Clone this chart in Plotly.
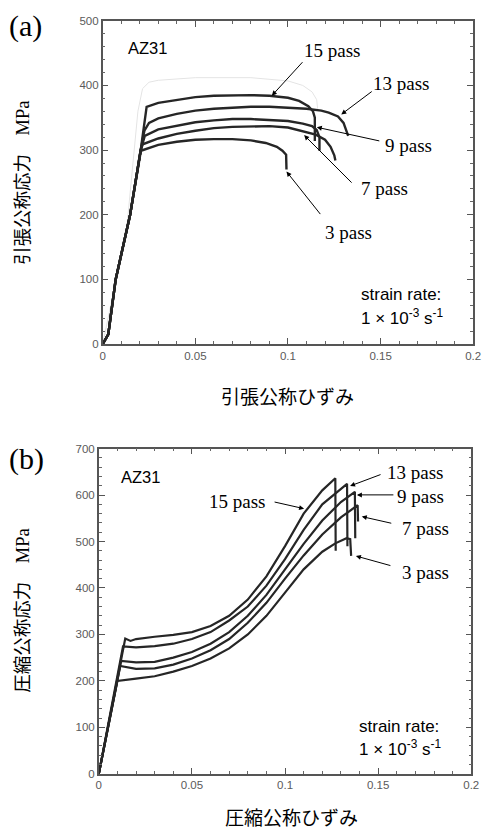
import plotly.graph_objects as go

# ---------------- data: tension (a) ----------------
t_labels = ["15 pass", "13 pass", "9 pass", "7 pass", "3 pass"]
t15_x = [0, 0.003, 0.007, 0.0148, 0.0205, 0.0237, 0.03, 0.04, 0.05, 0.06, 0.07, 0.08, 0.09, 0.1, 0.106, 0.111, 0.1135, 0.1145, 0.1145]
t15_y = [0, 15, 100, 200, 300, 367, 373, 378, 382, 384, 385, 385, 384, 381, 376, 368, 360, 350, 314]
t13_x = [0, 0.003, 0.007, 0.0148, 0.0205, 0.0225, 0.025, 0.03, 0.04, 0.05, 0.06, 0.07, 0.08, 0.09, 0.1, 0.11, 0.118, 0.122, 0.127, 0.13, 0.1325]
t13_y = [0, 15, 100, 200, 300, 330, 342, 349, 356, 361, 364, 366, 367, 367, 366, 364, 361, 358, 352, 342, 322]
t9_x = [0, 0.003, 0.007, 0.0148, 0.0205, 0.0227, 0.03, 0.04, 0.05, 0.06, 0.07, 0.08, 0.09, 0.1, 0.108, 0.113, 0.1155, 0.117, 0.117]
t9_y = [0, 15, 100, 200, 300, 322, 332, 338, 343, 346, 348, 348, 347, 345, 341, 337, 331, 320, 299]
t7_x = [0, 0.003, 0.007, 0.0148, 0.0205, 0.0216, 0.03, 0.04, 0.05, 0.06, 0.07, 0.08, 0.09, 0.1, 0.108, 0.115, 0.12, 0.123, 0.125, 0.1256]
t7_y = [0, 15, 100, 200, 300, 309, 318, 325, 330, 334, 336, 337, 337, 335, 329, 324, 316, 305, 292, 284]
t3_x = [0, 0.003, 0.007, 0.0148, 0.0206, 0.03, 0.04, 0.05, 0.06, 0.07, 0.08, 0.088, 0.094, 0.097, 0.099, 0.0992, 0.0992]
t3_y = [0, 15, 100, 200, 299, 308, 313, 316, 317, 317, 315, 311, 305, 299, 293, 285, 270]
tghost_x = [0, 0.013, 0.019, 0.0215, 0.025, 0.03, 0.05, 0.08, 0.1, 0.108, 0.113, 0.1155, 0.116]
tghost_y = [0, 180, 360, 395, 405, 408, 412, 412, 407, 400, 390, 378, 364]

# ---------------- data: compression (b) ----------------
c15_x = [0, 0.0142, 0.017, 0.02, 0.03, 0.04, 0.05, 0.06, 0.07, 0.08, 0.09, 0.1, 0.11, 0.12, 0.127, 0.1272]
c15_y = [0, 291, 286, 290, 295, 299, 305, 318, 340, 375, 425, 490, 560, 610, 636, 480]
c13_x = [0, 0.013, 0.02, 0.03, 0.04, 0.05, 0.06, 0.07, 0.08, 0.09, 0.1, 0.11, 0.12, 0.1333, 0.1335]
c13_y = [0, 274, 272, 275, 280, 290, 305, 330, 360, 405, 462, 525, 580, 624, 490]
c9_x = [0, 0.012, 0.02, 0.03, 0.04, 0.05, 0.06, 0.07, 0.08, 0.09, 0.1, 0.11, 0.12, 0.13, 0.1375, 0.1377]
c9_y = [0, 243, 240, 241, 250, 262, 280, 305, 340, 385, 440, 495, 545, 585, 607, 507]
c7_x = [0, 0.0115, 0.02, 0.03, 0.04, 0.05, 0.06, 0.07, 0.08, 0.09, 0.1, 0.11, 0.12, 0.13, 0.139, 0.1392]
c7_y = [0, 232, 226, 227, 235, 248, 266, 290, 325, 368, 420, 470, 515, 552, 578, 543]
c3_x = [0, 0.01, 0.02, 0.03, 0.04, 0.05, 0.06, 0.07, 0.08, 0.09, 0.1, 0.11, 0.12, 0.127, 0.133, 0.135, 0.1355]
c3_y = [0, 200, 205, 210, 220, 232, 248, 270, 300, 340, 390, 440, 478, 496, 507, 505, 469]

# tick values
x_ticks = [0, 0.05, 0.1, 0.15, 0.2]
x_ticklabels = ["0", "0.05", "0.1", "0.15", "0.2"]
ya_ticks = [0, 100, 200, 300, 400, 500]
yb_ticks = [0, 100, 200, 300, 400, 500, 600, 700]

W, H = 491, 836
fig = go.Figure()

line_col = "#262626"
fig.add_trace(go.Scatter(x=tghost_x, y=tghost_y, mode="lines", line=dict(color="#e4e4e4", width=1),
                         xaxis="x", yaxis="y", showlegend=False, hoverinfo="skip"))
for xs, ys in [(t15_x, t15_y), (t13_x, t13_y), (t9_x, t9_y), (t7_x, t7_y), (t3_x, t3_y)]:
    fig.add_trace(go.Scatter(x=xs, y=ys, mode="lines", line=dict(color=line_col, width=2.4),
                             xaxis="x", yaxis="y", showlegend=False))
for xs, ys in [(c15_x, c15_y), (c13_x, c13_y), (c9_x, c9_y), (c7_x, c7_y), (c3_x, c3_y)]:
    fig.add_trace(go.Scatter(x=xs, y=ys, mode="lines", line=dict(color=line_col, width=2.2),
                             xaxis="x2", yaxis="y2", showlegend=False))

tickfont = dict(family="Liberation Sans, Arial, sans-serif", size=11.5, color="#5a5a5a")
axis_common = dict(
    showline=True, linecolor="#555555", linewidth=1.5, mirror="ticks",
    ticks="inside", ticklen=6, tickwidth=1.2, tickcolor="#555555",
    showgrid=False, zeroline=False, tickfont=tickfont,
    minor=dict(ticks="inside", ticklen=3, tickwidth=1, tickcolor="#666666"),
)

def px_x(p):
    return p / W

def px_y(p):
    return 1 - p / H

fig.update_layout(
    width=W, height=H, margin=dict(l=0, r=0, t=0, b=0),
    paper_bgcolor="white", plot_bgcolor="white",
    xaxis=dict(domain=[px_x(102), px_x(481)], range=[0, 0.2], tickvals=x_ticks, ticktext=x_ticklabels,
               anchor="y", minor_dtick=0.01, **axis_common),
    yaxis=dict(domain=[px_y(343), px_y(15)], range=[0, 500], tickvals=ya_ticks,
               anchor="x", minor_dtick=20, **axis_common),
    xaxis2=dict(domain=[px_x(98), px_x(479)], range=[0, 0.2], tickvals=x_ticks, ticktext=x_ticklabels,
                anchor="y2", minor_dtick=0.01, **axis_common),
    yaxis2=dict(domain=[px_y(779), px_y(449)], range=[0, 700], tickvals=yb_ticks,
                anchor="x2", minor_dtick=20, **axis_common),
)

ann = []
serif = "Liberation Serif, Times New Roman, serif"
sans = "Liberation Sans, Arial, sans-serif"
jp = "Noto Sans CJK JP, sans-serif"

def text(x, y, s, fam, size, xanchor="left", angle=0):
    ann.append(dict(x=px_x(x), y=px_y(y), xref="paper", yref="paper", text=s, showarrow=False,
                    font=dict(family=fam, size=size, color="black"), xanchor=xanchor, yanchor="middle",
                    textangle=angle))

def arrow(x0, y0, x1, y1):
    ann.append(dict(x=px_x(x1), y=px_y(y1), xref="paper", yref="paper", text="", showarrow=True,
                    ax=x0 - x1, ay=y0 - y1, arrowhead=2, arrowsize=1, arrowwidth=1, arrowcolor="black",
                    standoff=0, startstandoff=0))

# panel labels
text(4, 20, "(a)", serif, 30)
text(4, 460, "(b)", serif, 30)

# axis titles
ytitle_a = "引張公称応力　<span style='font-family:Liberation Serif, Times New Roman, serif'>MPa</span>"
ytitle_b = "圧縮公称応力　<span style='font-family:Liberation Serif, Times New Roman, serif'>MPa</span>"
text(19, 180, ytitle_a, jp, 18.5, xanchor="center", angle=-90)
text(19, 614, ytitle_b, jp, 18.5, xanchor="center", angle=-90)
text(291, 395, "引張公称ひずみ", jp, 19, xanchor="center")
text(295, 822, "圧縮公称ひずみ", jp, 19, xanchor="center")

# panel (a) annotations
text(126, 43, "AZ31", sans, 16.5)
text(306, 45, t_labels[0], serif, 19)
text(376, 79, t_labels[1], serif, 19)
text(389, 142, t_labels[2], serif, 19)
text(364, 185, t_labels[3], serif, 19)
text(327, 230, t_labels[4], serif, 19)
arrow(307, 56, 275, 91)
arrow(378, 86, 346, 110)
arrow(385, 137, 321, 123)
arrow(357, 180, 308, 131)
arrow(325, 212, 290, 168)
text(364, 293, "strain rate:", sans, 17)
text(364, 316, "1 × 10<sup>-3</sup> s<sup>-1</sup>", sans, 17)

# panel (b) annotations
text(119, 478, "AZ31", sans, 16.5)
text(209, 503, t_labels[0], serif, 19)
text(391, 473, t_labels[1], serif, 19)
text(401, 498, t_labels[2], serif, 19)
text(406, 530, t_labels[3], serif, 19)
text(406, 575, t_labels[4], serif, 19)
arrow(277, 503, 308, 510)
arrow(387, 475, 355, 487)
arrow(400, 496, 362, 496)
arrow(398, 525, 367, 518)
arrow(397, 568, 361, 558)
text(362, 731, "strain rate:", sans, 17)
text(362, 753, "1 × 10<sup>-3</sup> s<sup>-1</sup>", sans, 17)

fig.update_layout(annotations=ann)
fig.write_html("out.html")
